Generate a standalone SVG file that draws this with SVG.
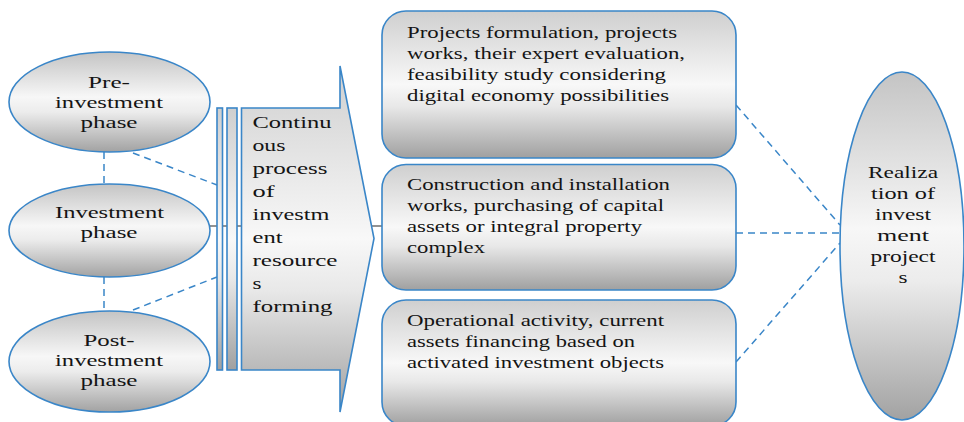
<svg xmlns="http://www.w3.org/2000/svg" width="964" height="422" viewBox="0 0 964 422">
<defs>
<linearGradient id="g" x1="0" y1="0" x2="0" y2="1">
<stop offset="0" stop-color="#c4c4c4"/>
<stop offset="0.45" stop-color="#f7f7f7"/>
<stop offset="0.6" stop-color="#ececec"/>
<stop offset="1" stop-color="#a2a2a2"/>
</linearGradient>
<linearGradient id="gb" x1="0" y1="0" x2="0" y2="1">
<stop offset="0" stop-color="#cfcfcf"/>
<stop offset="0.5" stop-color="#f8f8f8"/>
<stop offset="0.65" stop-color="#e8e8e8"/>
<stop offset="1" stop-color="#a0a0a0"/>
</linearGradient>
</defs>
<style>
.shape{fill:url(#g);stroke:#3a86c8;stroke-width:1.6}
.box{fill:url(#gb);stroke:#3a86c8;stroke-width:1.6}
.dash{stroke:#3a86c8;stroke-width:1.5;stroke-dasharray:7 5;fill:none}
.solid{stroke:#6e6e6e;stroke-width:1.5;fill:none}
text{font-family:"Liberation Serif","Times New Roman",Times,Tinos,"Noto Serif","DejaVu Serif",FreeSerif,serif;font-size:17px;fill:#141414}
.c{text-anchor:middle}
</style>
<g id="connectors">
<line class="solid" x1="208" y1="226" x2="382" y2="226"/>
<line class="dash" x1="104" y1="152" x2="104" y2="184"/>
<line class="dash" x1="104" y1="277" x2="104" y2="311"/>
<line class="dash" x1="133" y1="153" x2="217" y2="185"/>
<line class="dash" x1="133" y1="310" x2="217" y2="277"/>
<line class="dash" x1="736" y1="105" x2="840" y2="225"/>
<line class="dash" x1="736" y1="233" x2="840" y2="233"/>
<line class="dash" x1="736" y1="362" x2="840" y2="243"/>
</g>
<g id="pre-investment">
<ellipse class="shape" cx="109.5" cy="102" rx="100.5" ry="50"/>
<text class="c" x="109" y="87.5" textLength="42" lengthAdjust="spacingAndGlyphs">Pre-</text>
<text class="c" x="109" y="107.5" textLength="108" lengthAdjust="spacingAndGlyphs">investment</text>
<text class="c" x="109" y="127.5" textLength="57" lengthAdjust="spacingAndGlyphs">phase</text>
</g>
<g id="investment">
<ellipse class="shape" cx="109.5" cy="230.5" rx="100.5" ry="46.5"/>
<text class="c" x="109.5" y="218" textLength="109" lengthAdjust="spacingAndGlyphs">Investment</text>
<text class="c" x="109" y="238" textLength="57" lengthAdjust="spacingAndGlyphs">phase</text>
</g>
<g id="post-investment">
<ellipse class="shape" cx="109.5" cy="361.5" rx="100.5" ry="50.5"/>
<text class="c" x="109" y="345.5" textLength="51" lengthAdjust="spacingAndGlyphs">Post-</text>
<text class="c" x="109" y="365.5" textLength="108" lengthAdjust="spacingAndGlyphs">investment</text>
<text class="c" x="109" y="385.5" textLength="57" lengthAdjust="spacingAndGlyphs">phase</text>
</g>
<g id="process">
<rect class="box" x="217" y="108" width="5.5" height="262"/>
<rect class="box" x="227" y="108" width="10" height="262"/>
<path class="box" d="M241.5 108 H340 V66 L374 238.5 L340 412 V370 H241.5 Z"/>
<text x="252.5" y="128.3" textLength="79" lengthAdjust="spacingAndGlyphs">Continu</text>
<text x="252.5" y="151.2" textLength="33" lengthAdjust="spacingAndGlyphs">ous</text>
<text x="252.5" y="174.1" textLength="75" lengthAdjust="spacingAndGlyphs">process</text>
<text x="252.5" y="197" textLength="22" lengthAdjust="spacingAndGlyphs">of</text>
<text x="252.5" y="219.9" textLength="77" lengthAdjust="spacingAndGlyphs">investm</text>
<text x="252.5" y="242.8" textLength="30" lengthAdjust="spacingAndGlyphs">ent</text>
<text x="252.5" y="265.7" textLength="85" lengthAdjust="spacingAndGlyphs">resource</text>
<text x="252.5" y="288.6" textLength="9" lengthAdjust="spacingAndGlyphs">s</text>
<text x="252.5" y="311.5" textLength="80" lengthAdjust="spacingAndGlyphs">forming</text>
</g>
<g id="formulation">
<rect class="box" x="382" y="11" width="354" height="147" rx="24"/>
<text x="407" y="38" textLength="270" lengthAdjust="spacingAndGlyphs">Projects formulation, projects</text>
<text x="407" y="59" textLength="278" lengthAdjust="spacingAndGlyphs">works, their expert evaluation,</text>
<text x="407" y="80" textLength="259" lengthAdjust="spacingAndGlyphs">feasibility study considering</text>
<text x="407" y="101" textLength="262" lengthAdjust="spacingAndGlyphs">digital economy possibilities</text>
</g>
<g id="construction">
<rect class="box" x="382" y="164.5" width="354" height="125.5" rx="24"/>
<text x="407" y="190" textLength="263" lengthAdjust="spacingAndGlyphs">Construction and installation</text>
<text x="407" y="211" textLength="257" lengthAdjust="spacingAndGlyphs">works, purchasing of capital</text>
<text x="407" y="232" textLength="235" lengthAdjust="spacingAndGlyphs">assets or integral property</text>
<text x="407" y="253" textLength="78" lengthAdjust="spacingAndGlyphs">complex</text>
</g>
<g id="operational">
<rect class="box" x="382" y="300" width="354" height="126" rx="24"/>
<text x="407" y="326" textLength="257" lengthAdjust="spacingAndGlyphs">Operational activity, current</text>
<text x="407" y="347" textLength="228" lengthAdjust="spacingAndGlyphs">assets financing based on</text>
<text x="407" y="368" textLength="257" lengthAdjust="spacingAndGlyphs">activated investment objects</text>
</g>
<g id="realization">
<ellipse class="shape" cx="902" cy="246" rx="62" ry="174"/>
<text class="c" x="903" y="178" textLength="70" lengthAdjust="spacingAndGlyphs">Realiza</text>
<text class="c" x="903" y="199" textLength="64" lengthAdjust="spacingAndGlyphs">tion of</text>
<text class="c" x="903" y="220" textLength="56" lengthAdjust="spacingAndGlyphs">invest</text>
<text class="c" x="903" y="241" textLength="52" lengthAdjust="spacingAndGlyphs">ment</text>
<text class="c" x="903" y="262" textLength="65" lengthAdjust="spacingAndGlyphs">project</text>
<text class="c" x="903" y="283" textLength="9" lengthAdjust="spacingAndGlyphs">s</text>
</g>
</svg>
